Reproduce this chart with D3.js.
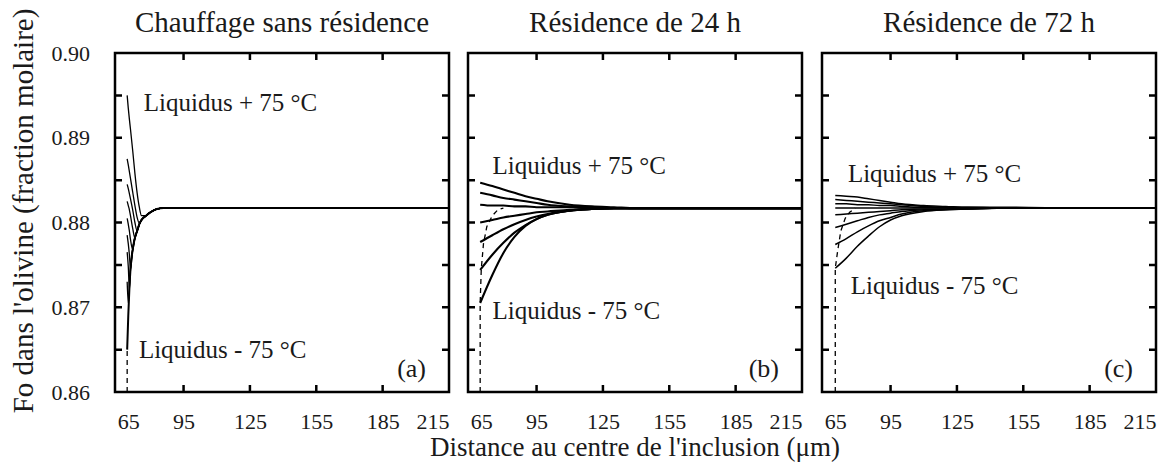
<!DOCTYPE html>
<html lang="fr">
<head>
	<title> Fo dans l'olivine </title>
	<meta charset="utf-8">
	<script src="https://cdn.jsdelivr.net/npm/d3@7/dist/d3.min.js" charset="utf-8"></script>
</head>
<style>
	body
	{
		margin: 0;
		background-color: #fff;
	}

	svg
	{
		font-family: 'Liberation Serif', 'Times New Roman', serif;
		fill: #1a1a1a;
	}

	.frame
	{
		fill: none;
		stroke: #000;
		stroke-width: 2.5;
	}

	.domain
	{
		display: none;
	}

	.curve
	{
		fill: none;
		stroke: #000;
	}

	.dash
	{
		fill: none;
		stroke: #000;
		stroke-width: 1.3;
		stroke-dasharray: 5,4;
	}
</style>

<body>

	<svg id="chart" width="1165" height="468"></svg>
	<script type="text/javascript">

		// tick labels and tick marks
		var xTicks = [65, 95, 125, 155, 185, 215];
		var xMarks = [95, 125, 155, 185];
		var yTicks = [0.86, 0.87, 0.88, 0.89, 0.90];
		var yMarks = [0.865, 0.87, 0.875, 0.88, 0.885, 0.89, 0.895];

		var titles = ['Chauffage sans résidence', 'Résidence de 24 h', 'Résidence de 72 h'];
		var letters = ['(a)', '(b)', '(c)'];

		// (a) chauffage sans residence
		var distA = [69.5, 70, 70.5, 71, 72, 73, 74, 75, 76, 78, 80, 83, 86, 215];
		var foA = [
			[0.8950, 0.8935, 0.8922, 0.8910, 0.8885, 0.8858, 0.8835, 0.8818, 0.8808, 0.8808, 0.8812, 0.8816, 0.8817, 0.8817],
			[0.8875, 0.8868, 0.8860, 0.8852, 0.8836, 0.8820, 0.8806, 0.8799, 0.8803, 0.8808, 0.8812, 0.8816, 0.8817, 0.8817],
			[0.8845, 0.8840, 0.8834, 0.8828, 0.8815, 0.8800, 0.8790, 0.8798, 0.8803, 0.8808, 0.8812, 0.8816, 0.8817, 0.8817],
			[0.8825, 0.8820, 0.8815, 0.8808, 0.8793, 0.8782, 0.8790, 0.8798, 0.8803, 0.8808, 0.8812, 0.8816, 0.8817, 0.8817],
			[0.8805, 0.8798, 0.8790, 0.8780, 0.8768, 0.8782, 0.8790, 0.8798, 0.8803, 0.8808, 0.8812, 0.8816, 0.8817, 0.8817],
			[0.8785, 0.8775, 0.8762, 0.8745, 0.8768, 0.8782, 0.8790, 0.8798, 0.8803, 0.8808, 0.8812, 0.8816, 0.8817, 0.8817],
			[0.8765, 0.8748, 0.8722, 0.8745, 0.8768, 0.8782, 0.8790, 0.8798, 0.8803, 0.8808, 0.8812, 0.8816, 0.8817, 0.8817],
			[0.8730, 0.8705, 0.8722, 0.8745, 0.8768, 0.8782, 0.8790, 0.8798, 0.8803, 0.8808, 0.8812, 0.8816, 0.8817, 0.8817],
			[0.8650, 0.8690, 0.8722, 0.8745, 0.8768, 0.8782, 0.8790, 0.8798, 0.8803, 0.8808, 0.8812, 0.8816, 0.8817, 0.8817]
		];
		var dashDistA = [69.5, 69.5];
		var dashFoA = [0.86, 0.865];

		// (b) 24 h
		var distB = [69.5, 75, 80, 85, 90, 95, 100, 110, 120, 130, 140, 215];
		var foB = [
			[0.8847, 0.8843, 0.8839, 0.8835, 0.8831, 0.8828, 0.8825, 0.8821, 0.8819, 0.8818, 0.8817, 0.8817],
			[0.8835, 0.8832, 0.8829, 0.8827, 0.8825, 0.8823, 0.8821, 0.8819, 0.8818, 0.8817, 0.8817, 0.8817],
			[0.8821, 0.8820, 0.8820, 0.8819, 0.8819, 0.8818, 0.8818, 0.8818, 0.8817, 0.8817, 0.8817, 0.8817],
			[0.8800, 0.8803, 0.8806, 0.8808, 0.8810, 0.8812, 0.8813, 0.8815, 0.8816, 0.8817, 0.8817, 0.8817],
			[0.8777, 0.8785, 0.8792, 0.8798, 0.8803, 0.8807, 0.8810, 0.8814, 0.8816, 0.8817, 0.8817, 0.8817],
			[0.8744, 0.8762, 0.8776, 0.8788, 0.8797, 0.8804, 0.8809, 0.8814, 0.8816, 0.8817, 0.8817, 0.8817],
			[0.8705, 0.8738, 0.8764, 0.8783, 0.8796, 0.8804, 0.8809, 0.8814, 0.8816, 0.8817, 0.8817, 0.8817]
		];
		var dashDistB = [69.5, 69.5, 70, 71, 72.5, 75, 77.5, 80];
		var dashFoB = [0.86, 0.8705, 0.8745, 0.8775, 0.8795, 0.8808, 0.8815, 0.8817];

		// (c) 72 h
		var distC = [70, 75, 80, 85, 90, 95, 100, 110, 120, 130, 150, 180, 215];
		var foC = [
			[0.8832, 0.8831, 0.8830, 0.8828, 0.8826, 0.8824, 0.8822, 0.8820, 0.8819, 0.8818, 0.8818, 0.8817, 0.8817],
			[0.8827, 0.8826, 0.8825, 0.8824, 0.8823, 0.8822, 0.8821, 0.8819, 0.8818, 0.8818, 0.8817, 0.8817, 0.8817],
			[0.8822, 0.8822, 0.8821, 0.8821, 0.8820, 0.8820, 0.8819, 0.8818, 0.8818, 0.8817, 0.8817, 0.8817, 0.8817],
			[0.8817, 0.8817, 0.8817, 0.8817, 0.8817, 0.8817, 0.8817, 0.8817, 0.8817, 0.8817, 0.8817, 0.8817, 0.8817],
			[0.8809, 0.8810, 0.8811, 0.8812, 0.8813, 0.8814, 0.8815, 0.8816, 0.8816, 0.8817, 0.8817, 0.8817, 0.8817],
			[0.8794, 0.8798, 0.8802, 0.8806, 0.8809, 0.8811, 0.8813, 0.8815, 0.8816, 0.8816, 0.8817, 0.8817, 0.8817],
			[0.8774, 0.8781, 0.8789, 0.8796, 0.8802, 0.8806, 0.8810, 0.8814, 0.8815, 0.8816, 0.8817, 0.8817, 0.8817],
			[0.8746, 0.8758, 0.8772, 0.8784, 0.8795, 0.8803, 0.8808, 0.8813, 0.8815, 0.8816, 0.8817, 0.8817, 0.8817]
		];
		var dashDistC = [70, 70, 71, 72.5, 74.5, 76.5, 79];
		var dashFoC = [0.86, 0.8746, 0.8765, 0.879, 0.8805, 0.8812, 0.8817];

		var panels = [
			{dist: distA, fo: foA, dashDist: dashDistA, dashFo: dashFoA, width: 1.3,
				plus: [77, 0.8931], minus: [74.8, 0.8640]},
			{dist: distB, fo: foB, dashDist: dashDistB, dashFo: dashFoB, width: 2.1,
				plus: [75.1, 0.8857], minus: [75.1, 0.8686]},
			{dist: distC, fo: foC, dashDist: dashDistC, dashFo: dashFoC, width: 1.5,
				plus: [75.7, 0.8848], minus: [77, 0.8716]}
		];

		var svg = d3.select('#chart'),
			plotTop = 53, plotBottom = 392,
			lefts = [115, 468, 822],
			pw = 334, tickLen = 7;

		var y = d3.scaleLinear().domain([0.86, 0.90]).range([plotBottom, plotTop]);

		panels.forEach(function(p, i)
		{
			var x = d3.scaleLinear().domain([64, 215]).range([lefts[i], lefts[i] + pw]);
			var right = lefts[i] + pw;

			var line = d3.line()
				.x(function(d) {return x(d[0]); })
				.y(function(d) {return y(d[1]); })
				.curve(d3.curveMonotoneX);

			var g = svg.append('g');

			// dashed initial profile
			g.append('path')
				.attr('class', 'dash')
				.attr('d', d3.line()
					.x(function(d) {return x(d[0]); })
					.y(function(d) {return y(d[1]); })(d3.zip(p.dashDist, p.dashFo)));

			g.selectAll('.curve')
				.data(p.fo)
				.enter().append('path')
				.attr('class', 'curve')
				.attr('stroke-width', function(d, j) {return (i == 0 && j == p.fo.length - 1) ? 2 : p.width; })
				.attr('d', function(d) {return line(d3.zip(p.dist, d)); });

			// frame and inward tick marks drawn as one path per panel
			var pth = d3.path();
			pth.rect(lefts[i], plotTop, pw, plotBottom - plotTop);
			xMarks.forEach(function(d)
			{
				pth.moveTo(x(d), plotTop);
				pth.lineTo(x(d), plotTop + tickLen);
				pth.moveTo(x(d), plotBottom);
				pth.lineTo(x(d), plotBottom - tickLen);
			});
			yMarks.forEach(function(d)
			{
				pth.moveTo(lefts[i], y(d));
				pth.lineTo(lefts[i] + tickLen, y(d));
				pth.moveTo(right, y(d));
				pth.lineTo(right - tickLen, y(d));
			});
			g.append('path')
				.attr('d', pth.toString())
				.attr('fill', 'none')
				.attr('stroke', '#000')
				.attr('stroke-width', 2.5);

			// x tick labels, end labels kept inside the frame
			var xl = g.append('g')
				.attr('transform', 'translate(0,' + plotBottom + ')')
				.call(d3.axisBottom(x).tickValues(xTicks).tickSize(0).tickPadding(21))
				.attr('font-family', null)
				.attr('font-size', 22);
			xl.selectAll('text')
				.attr('fill', '#1a1a1a')
				.attr('text-anchor', function(d, j) {return j == 0 ? 'start' : (j == xTicks.length - 1 ? 'end' : 'middle'); });

			if (i == 0)
			{
				var yl = g.append('g')
					.attr('transform', 'translate(' + lefts[i] + ',0)')
					.call(d3.axisLeft(y).tickValues(yTicks).tickSize(0).tickPadding(25).tickFormat(d3.format('.2f')))
					.attr('font-family', null)
					.attr('font-size', 22);
				yl.selectAll('text')
					.attr('fill', '#1a1a1a');
			}

			g.append('text')
				.attr('x', lefts[i] + pw / 2)
				.attr('y', 32)
				.attr('text-anchor', 'middle')
				.attr('font-size', 29)
				.text(titles[i]);

			g.append('text')
				.attr('x', x(p.plus[0]))
				.attr('y', y(p.plus[1]))
				.attr('font-size', 25)
				.text('Liquidus + 75 °C');

			g.append('text')
				.attr('x', x(p.minus[0]))
				.attr('y', y(p.minus[1]))
				.attr('font-size', 25)
				.text('Liquidus - 75 °C');

			g.append('text')
				.attr('x', lefts[i] + pw - 23)
				.attr('y', plotBottom - 15)
				.attr('text-anchor', 'end')
				.attr('font-size', 26)
				.text(letters[i]);
		});

		svg.append('text')
			.attr('x', lefts[1] + pw / 2)
			.attr('y', 456)
			.attr('text-anchor', 'middle')
			.attr('font-size', 27)
			.text("Distance au centre de l'inclusion (\u03bcm)");

		svg.append('text')
			.attr('transform', 'translate(33,211) rotate(-90)')
			.attr('text-anchor', 'middle')
			.attr('font-size', 29)
			.text("Fo dans l'olivine (fraction molaire)");
</script>
</body>
</html>
